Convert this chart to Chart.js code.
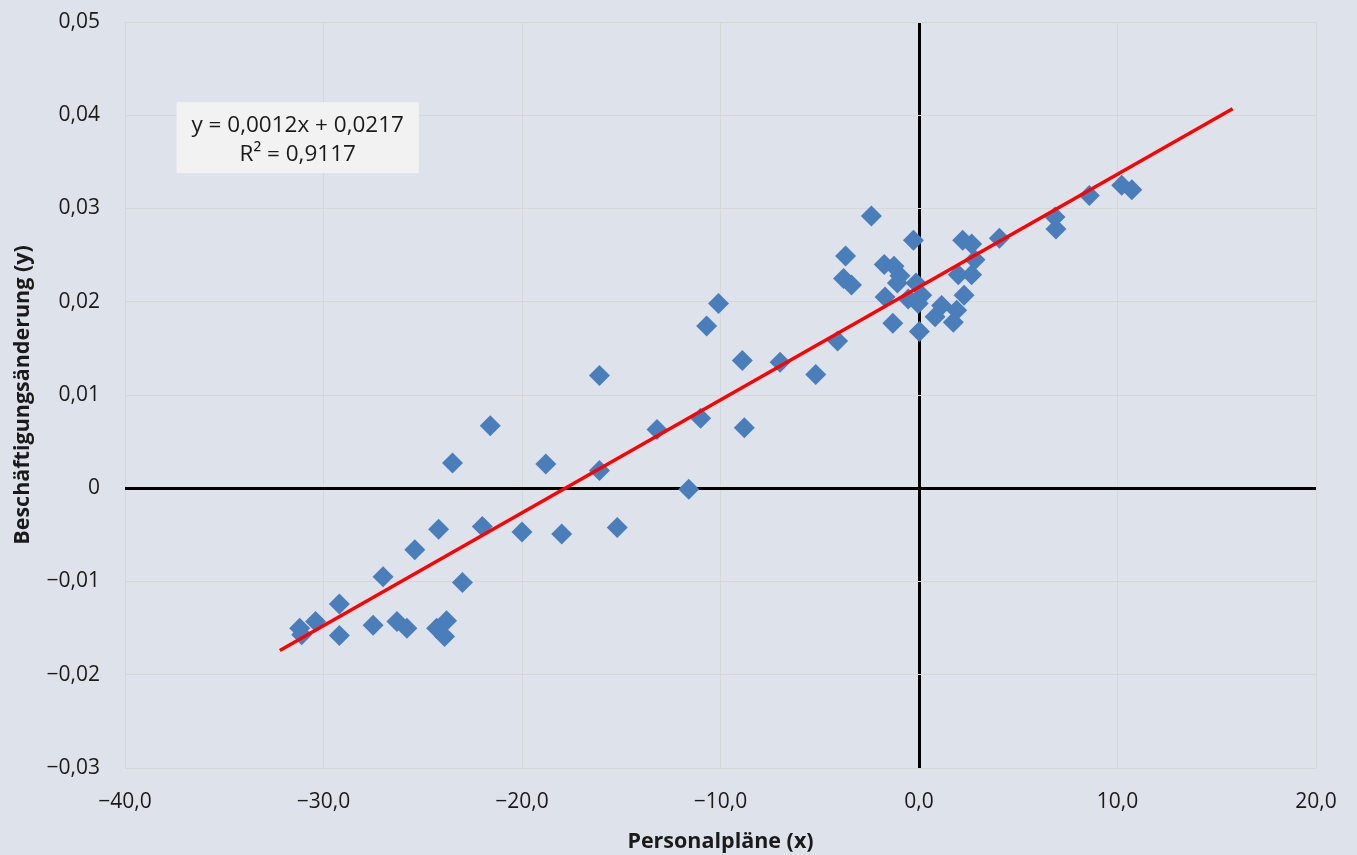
<!DOCTYPE html>
<html>
<head>
<meta charset="utf-8">
<script src="https://cdn.jsdelivr.net/npm/chart.js@4"></script>
<style>
html,body{margin:0;padding:0;background:#dee2ea;}
#wrap{width:1357px;height:855px;}
</style>
</head>
<body>
<div id="wrap"><canvas id="c" width="1357" height="855"></canvas></div>
<script>
// Data
const pointsX = [
  -31.2, -31.1, -30.4, -29.2, -29.2, -27.5, -27.0, -26.3, -25.8, -25.4,
  -24.2, -24.3, -23.8, -23.9, -23.5, -23.0, -22.0, -21.6, -20.0, -18.8,
  -18.0, -16.1, -16.1, -15.2, -13.2, -11.6, -11.0, -10.7, -10.1, -8.9,
  -8.8, -7.0, -5.2, -4.1, -3.7, -3.8, -3.4, -2.4,
  -0.28, -1.75, -1.26, -0.96, -1.09, -1.71, -0.54, -0.15, 0.14, -0.04,
  -1.32, 0.02, 1.98, 2.20, 2.65, 2.82, 2.65, 2.27, 1.14, 0.81,
  1.90, 1.73, 4.05, 6.85, 6.90, 8.58, 10.21, 10.72
];
const pointsY = [
  -0.0150, -0.0157, -0.0143, -0.0124, -0.0158, -0.0147, -0.0095, -0.0143, -0.0150, -0.0066,
  -0.0044, -0.0150, -0.0142, -0.0159, 0.0027, -0.0101, -0.0041, 0.0067, -0.0047, 0.0026,
  -0.0049, 0.0019, 0.0121, -0.0042, 0.0063, -0.0001, 0.0075, 0.0174, 0.0198, 0.0137,
  0.0065, 0.0135, 0.0122, 0.0158, 0.0249, 0.0225, 0.0218, 0.0292,
  0.0266, 0.0240, 0.0238, 0.0228, 0.0220, 0.0205, 0.0203, 0.0220, 0.0207, 0.0198,
  0.0177, 0.0168, 0.0229, 0.0266, 0.0262, 0.0245, 0.0229, 0.0207, 0.0196, 0.0184,
  0.0191, 0.0178, 0.0268, 0.0291, 0.0278, 0.0314, 0.0325, 0.0320
];
const trendX = [-32.2, 15.8];
const trendY = [-0.0174, 0.0407];
const xTicks = [-40, -30, -20, -10, 0, 10, 20];
const yTicks = [-0.03, -0.02, -0.01, 0, 0.01, 0.02, 0.03, 0.04, 0.05];
const xTitle = 'Personalpläne (x)';
const yTitle = 'Beschäftigungsänderung (y)';
const equationLines = ['y = 0,0012x + 0,0217', 'R² = 0,9117'];
const equationAnchor = { x: -37.4, y: 0.0414, x2: -25.2, y2: 0.0338 };

const FONT = '"Open Sans", "Noto Sans", sans-serif';
const BG = '#dee2ea';
const GRID = '#d6d7d9';

function fmtX(v){ const s = Math.abs(v).toFixed(1).replace('.', ','); return v < 0 ? '\u2212' + s : s; }
function fmtY(v){ if (Math.abs(v) < 1e-9) return '0'; const s = Math.abs(v).toFixed(2).replace('.', ','); return v < 0 ? '\u2212' + s : s; }

const bgPlugin = {
  id: 'bg',
  beforeDraw(chart){
    const ctx = chart.ctx;
    ctx.save();
    ctx.fillStyle = BG;
    ctx.fillRect(0, 0, chart.width, chart.height);
    ctx.restore();
  }
};

const eqPlugin = {
  id: 'eq',
  afterDatasetsDraw(chart){
    const xs = chart.scales.x, ys = chart.scales.y, ctx = chart.ctx;
    const l = xs.getPixelForValue(equationAnchor.x), r = xs.getPixelForValue(equationAnchor.x2);
    const t = ys.getPixelForValue(equationAnchor.y), b = ys.getPixelForValue(equationAnchor.y2);
    ctx.save();
    ctx.fillStyle = '#f2f2f2';
    ctx.fillRect(l, t, r - l, b - t);
    ctx.fillStyle = '#1a1a1a';
    ctx.font = '22.5px ' + FONT;
    ctx.textAlign = 'center';
    ctx.textBaseline = 'middle';
    const cx = (l + r) / 2, h = (b - t);
    ctx.fillText(equationLines[0], cx, t + h * 0.33);
    ctx.fillText(equationLines[1], cx, t + h * 0.74);
    ctx.restore();
  }
};

const scatterData = pointsX.map((x, i) => ({ x, y: pointsY[i] }));
const trendData = trendX.map((x, i) => ({ x, y: trendY[i] }));

new Chart(document.getElementById('c'), {
  type: 'scatter',
  data: {
    datasets: [
      {
        label: 'Trend',
        data: trendData,
        showLine: true,
        borderColor: '#ff0000',
        borderWidth: 3.5,
        pointRadius: 0,
        fill: false,
        order: 0
      },
      {
        label: 'Daten',
        data: scatterData,
        pointStyle: 'rectRot',
        pointRadius: 10.5,
        pointHoverRadius: 10.5,
        backgroundColor: '#4a7ebb',
        borderColor: '#4a7ebb',
        borderWidth: 0,
        order: 1
      }
    ]
  },
  options: {
    responsive: false,
    animation: false,
    layout: { padding: { top: 22, right: 41, bottom: 0, left: 10 } },
    plugins: { legend: { display: false }, tooltip: { enabled: false } },
    scales: {
      x: {
        type: 'linear',
        min: -40, max: 20,
        afterBuildTicks(scale){ scale.ticks = xTicks.map(v => ({ value: v })); },
        afterFit(scale){ scale.height = 87; scale.paddingLeft = 0; scale.paddingRight = 0; },
        border: { display: false },
        grid: {
          drawTicks: false,
          color: ctx => (ctx.tick && ctx.tick.value === 0) ? '#000' : GRID,
          lineWidth: ctx => (ctx.tick && ctx.tick.value === 0) ? 3 : 1
        },
        ticks: {
          padding: 21,
          color: '#1a1a1a',
          font: { family: FONT, size: 21 },
          maxRotation: 0,
          callback: v => fmtX(v)
        },
        title: {
          display: true,
          text: xTitle,
          color: '#1a1a1a',
          font: { family: FONT, size: 21.5, weight: 'bold' },
          padding: { top: 0, bottom: 0 }
        }
      },
      y: {
        type: 'linear',
        min: -0.03, max: 0.05,
        afterBuildTicks(scale){ scale.ticks = yTicks.map(v => ({ value: v })); },
        afterFit(scale){ scale.width = 115; scale.paddingTop = 0; scale.paddingBottom = 0; },
        border: { display: false },
        grid: {
          drawTicks: false,
          color: ctx => (ctx.tick && Math.abs(ctx.tick.value) < 1e-9) ? '#000' : GRID,
          lineWidth: ctx => (ctx.tick && Math.abs(ctx.tick.value) < 1e-9) ? 3 : 1
        },
        ticks: {
          padding: 25,
          color: '#1a1a1a',
          font: { family: FONT, size: 21 },
          callback: v => fmtY(v)
        },
        title: {
          display: true,
          text: yTitle,
          color: '#1a1a1a',
          font: { family: FONT, size: 21.5, weight: 'bold' },
          padding: { top: 0, bottom: 0 }
        }
      }
    }
  },
  plugins: [bgPlugin, eqPlugin]
});
</script>
</body>
</html>
